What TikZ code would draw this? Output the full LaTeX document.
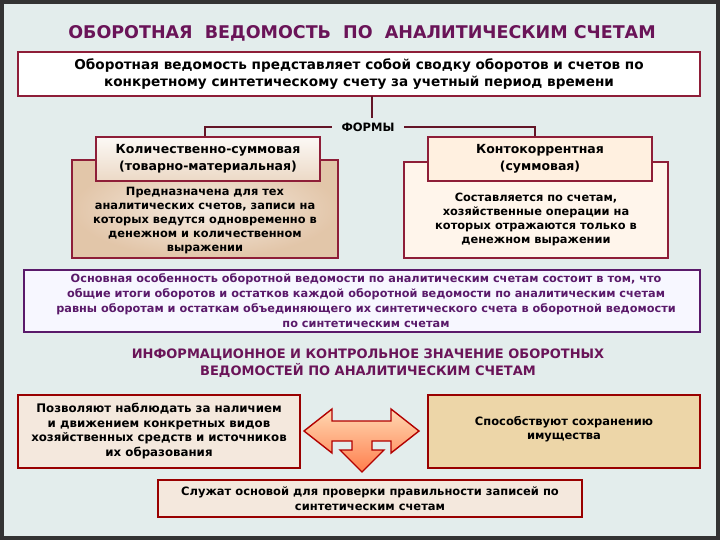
\documentclass[tikz,border=0pt]{standalone}
\usepackage{fontspec}
\setmainfont{DejaVu Sans}
\definecolor{bg}{HTML}{E3EDEC}
\definecolor{ttl}{HTML}{6A1458}
\definecolor{red1}{HTML}{8E1E38}
\definecolor{pur}{HTML}{5A1A6A}
\definecolor{tan2}{HTML}{EDD6A8}
\tikzset{
  bx/.style={draw=red1,line width=1.6pt,align=center,inner sep=0pt},
  txt/.style={align=center,font=\bfseries\fontsize{10.5}{12.5}\selectfont},
  hd/.style={align=center,font=\bfseries\fontsize{12}{14}\selectfont,text=ttl},
}
\begin{document}
\begin{tikzpicture}[x=1pt,y=-1pt]
\fill[black!80] (0,0) rectangle (720,540);
\fill[bg] (4,4) rectangle (716,536);
\node[hd,font=\bfseries\fontsize{17.5}{19}\selectfont] (title) at (362,33) {ОБОРОТНАЯ\ \ ВЕДОМОСТЬ\ \ ПО\ \ АНАЛИТИЧЕСКИМ СЧЕТАМ};
\draw[bx,fill=white] (18,52) rectangle (700,96);
\node[txt,font=\bfseries\fontsize{13.6}{16.5}\selectfont] (def) at (359,74) {Оборотная ведомость представляет собой сводку оборотов и счетов по\\конкретному синтетическому счету за учетный период времени};
\coordinate (defb) at (372,96);
\node[txt,font=\bfseries\fontsize{11.5}{13}\selectfont] (forms) at (368,127) {ФОРМЫ};
\draw[red1!70!black,line width=1.2pt] (defb) -- (372,118);
\draw[red1!70!black,line width=1.2pt] (forms.west) ++(-6,0) -| (205,137);
\draw[red1!70!black,line width=1.2pt] (forms.east) ++(6,0) -| (535,137);
% left
\draw[bx,inner color=white!85!brown,outer color=brown!45!white] (72,160) rectangle (338,258);
\draw[bx,top color=white!95!brown,bottom color=brown!30!white] (96,137) rectangle (320,181);
\node[txt,font=\bfseries\fontsize{12.5}{17}\selectfont] (lh) at (208,159) {Количественно-суммовая\\(товарно-материальная)};
\node[txt,font=\bfseries\fontsize{11.4}{14}\selectfont] (lb) at (205,221) {Предназначена для тех\\аналитических счетов, записи на\\которых ведутся одновременно в\\денежном и количественном\\выражении};
% right
\draw[bx,fill=orange!8!white] (404,162) rectangle (668,258);
\draw[bx,fill=orange!12!white] (428,137) rectangle (652,181);
\node[txt,font=\bfseries\fontsize{12.5}{17}\selectfont] (rh) at (540,159) {Контокоррентная\\(суммовая)};
\node[txt,font=\bfseries\fontsize{11.4}{14}\selectfont] (rb) at (536,219) {Составляется по счетам,\\хозяйственные операции на\\которых отражаются только в\\денежном выражении};
% middle
\draw[draw=pur,line width=1.4pt,fill=blue!3!white] (24,270) rectangle (700,332);
\node[txt,font=\bfseries\fontsize{11.3}{15}\selectfont,text=pur] (mid) at (366,301) {Основная особенность оборотной ведомости по аналитическим счетам состоит в том, что\\общие итоги оборотов и остатков каждой оборотной ведомости по аналитическим счетам\\равны оборотам и остаткам объединяющего их синтетического счета в оборотной ведомости\\по синтетическим счетам};
\node[hd,font=\bfseries\fontsize{13}{17}\selectfont] (h2) at (368,363) {ИНФОРМАЦИОННОЕ И КОНТРОЛЬНОЕ ЗНАЧЕНИЕ ОБОРОТНЫХ\\ВЕДОМОСТЕЙ ПО АНАЛИТИЧЕСКИМ СЧЕТАМ};
\draw[bx,fill=brown!18!white,draw=red!60!black] (18,395) rectangle (300,468);
\node[txt,font=\bfseries\fontsize{11.8}{14.5}\selectfont] (b1) at (159,431) {Позволяют наблюдать за наличием\\и движением конкретных видов\\хозяйственных средств и источников\\их образования};
\draw[bx,fill=tan2,draw=red!60!black] (428,395) rectangle (700,468);
\node[txt,font=\bfseries\fontsize{11.5}{14.5}\selectfont] (b2) at (564,429) {Способствуют сохранению\\имущества};
\draw[bx,fill=brown!18!white,draw=red!60!black] (158,480) rectangle (582,517);
\node[txt,font=\bfseries\fontsize{11.5}{15}\selectfont] (b3) at (370,499) {Служат основой для проверки правильности записей по\\синтетическим счетам};
% arrow
\draw[draw=red!70!black,line width=1.4pt,top color=orange!30!white,bottom color=red!45!orange!70!white]
 (304,431) -- (332,409) -- (332,421) -- (391,421) -- (391,409) -- (419,431) -- (391,453) -- (391,441)
 -- (372,441) -- (372,450) -- (384,450) -- (362,472) -- (340,450) -- (352,450) -- (352,441)
 -- (332,441) -- (332,453) -- cycle;
\end{tikzpicture}
\end{document}
